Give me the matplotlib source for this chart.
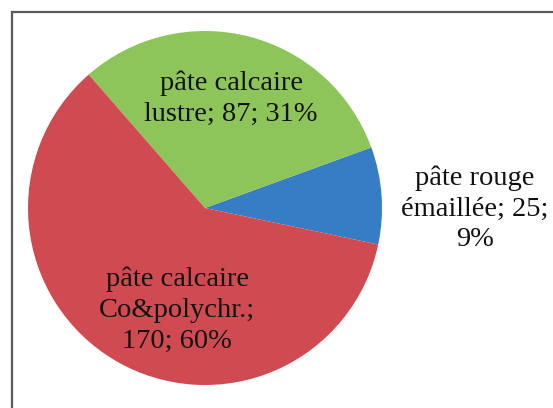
import matplotlib
matplotlib.use("Agg")
from matplotlib import pyplot as plt
from matplotlib.patches import Rectangle

# order drawn counter-clockwise, starting from the lower edge of the blue slice
labels = ["pâte rouge\némaillée; 25;\n9%",
          "pâte calcaire\nlustre; 87; 31%",
          "pâte calcaire\nCo&polychr.;\n170; 60%"]
counts = [25, 87, 170]
colors = ["#367dc3", "#8dc55a", "#d04b51"]

# label centres in figure pixels (from the top left)
label_pos = [(475, 209), (231, 99), (177, 310)]

W, H = 553, 408


def main():
    plt.rcParams["font.family"] = ["Liberation Serif", "DejaVu Serif"]
    fig = plt.figure(figsize=(W / 100, H / 100), dpi=100)

    # outer frame of the chart area
    fig.patches.append(Rectangle((12 / W, -0.05), 1.1, (H - 12) / H + 0.05,
                                 transform=fig.transFigure, fill=False,
                                 edgecolor="#5a5a5a", linewidth=1.6))

    ax = fig.add_axes([28 / W, (H - 385) / H, 354 / W, 354 / H])
    ax.pie(counts, colors=colors, startangle=-11.9, counterclock=True,
           wedgeprops=dict(linewidth=0))
    ax.set_xlim(-1, 1)
    ax.set_ylim(-1, 1)
    ax.set_aspect("equal")
    ax.axis("off")

    for text, (x, y) in zip(labels, label_pos):
        fig.text(x / W, 1 - y / H, text, ha="center", va="center",
                 fontsize=20.5, linespacing=1.3, color="#111111")

    fig.savefig("out.png", dpi=100)


if __name__ == "__main__":
    main()
